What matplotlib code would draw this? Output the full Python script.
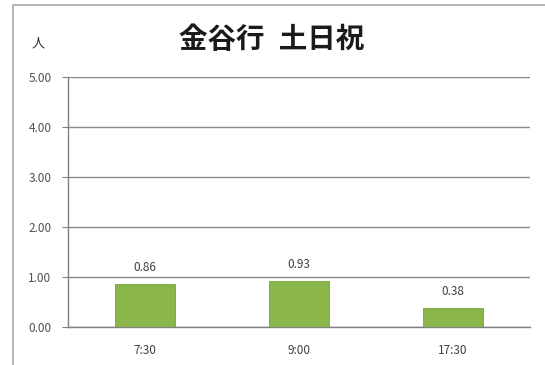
import matplotlib.pyplot as plt
from matplotlib.patches import Rectangle

plt.rcParams['font.family'] = ['Noto Sans CJK JP', 'DejaVu Sans']

categories = ['7:30', '9:00', '17:30']
values = [0.86, 0.93, 0.38]
value_labels = ['0.86', '0.93', '0.38']
yticks = [0.0, 1.0, 2.0, 3.0, 4.0, 5.0]

fig = plt.figure(figsize=(5.45, 3.65), dpi=100)
fig.patch.set_facecolor('white')

# outer frame of the chart box
frame = Rectangle((13 / 545, -0.05), 1.0, 1 - 5 / 365 + 0.05,
                  transform=fig.transFigure, facecolor='white',
                  edgecolor='#a8a8a8', linewidth=1.2, zorder=-10)
fig.patches.append(frame)

ax = fig.add_axes([68 / 545, 1 - 327 / 365, 462 / 545, 250 / 365])
ax.set_facecolor('none')
ax.set_zorder(5)

x = range(len(categories))
ax.bar(x, values, width=0.39, color='#8ab64a', edgecolor='#78a23c',
       linewidth=0.6, zorder=3)
for xi, v, lab in zip(x, values, value_labels):
    ax.text(xi, v + 0.2, lab, ha='center', va='bottom', fontsize=8.5,
            color='#404040')

ax.set_xlim(-0.5, 2.5)
ax.set_ylim(0, 5)
ax.set_yticks(yticks)
ax.set_yticklabels([f'{t:.2f}' for t in yticks], fontsize=8.5, color='#505050')
ax.set_xticks(list(x))
ax.set_xticklabels(categories, fontsize=8.5, color='#404040')
ax.tick_params(axis='x', length=0, pad=12)
ax.tick_params(axis='y', length=4, color='#808080', pad=8)
ax.yaxis.grid(True, color='#8a8a8a', linewidth=1.0, zorder=0)
for s in ['top', 'right']:
    ax.spines[s].set_visible(False)
ax.spines['left'].set_color('#808080')
ax.spines['bottom'].set_color('#808080')
ax.spines['left'].set_linewidth(1.0)
ax.spines['bottom'].set_linewidth(1.0)

fig.text(272 / 545, 1 - 40 / 365, '金谷行\u2002土日祝', ha='center', va='center',
         fontsize=20.5, fontweight='bold', color='#1a1a1a')
fig.text(38 / 545, 1 - 44 / 365, '人', ha='center', va='center',
         fontsize=9.5, color='#303030')

fig.savefig('out.png', dpi=100)
